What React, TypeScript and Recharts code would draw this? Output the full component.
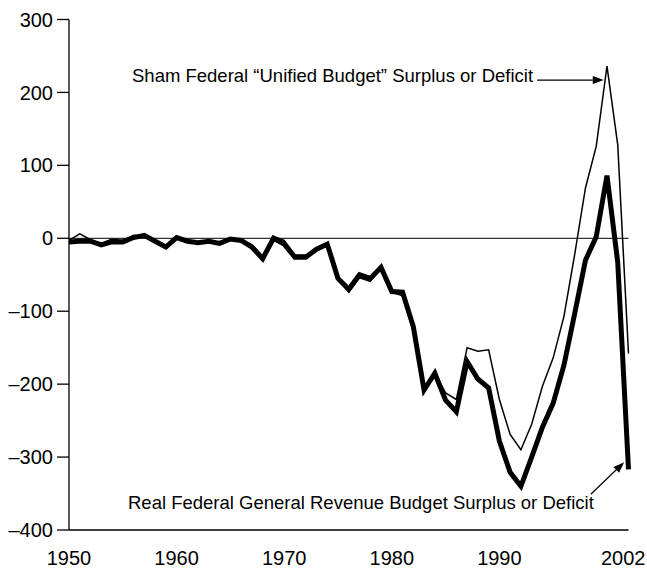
import React from 'react';
import { LineChart, Line, XAxis, YAxis, ReferenceLine } from 'recharts';

// fiscal years shown on the chart
const YEARS = [
  1950, 1951, 1952, 1953, 1954, 1955, 1956, 1957, 1958, 1959,
  1960, 1961, 1962, 1963, 1964, 1965, 1966, 1967, 1968, 1969,
  1970, 1971, 1972, 1973, 1974, 1975, 1976, 1977, 1978, 1979,
  1980, 1981, 1982, 1983, 1984, 1985, 1986, 1987, 1988, 1989,
  1990, 1991, 1992, 1993, 1994, 1995, 1996, 1997, 1998, 1999,
  2000, 2001, 2002,
];

// thin line: "unified budget" surplus / deficit
const UNIFIED = [
  -3, 6, -2, -7, -1, -3, 4, 3, -3, -13,
  0, -3, -7, -5, -6, -1, -4, -9, -25, 3,
  -3, -23, -23, -15, -6, -53, -74, -54, -59, -41,
  -74, -79, -128, -208, -185, -212, -221, -150, -155, -153,
  -221, -269, -290, -255, -203, -164, -107, -22, 69, 126,
  236, 128, -158,
];

// thick line: general revenue surplus / deficit
const GENERAL = [
  -5, -4, -4, -9, -5, -5, 1, 4, -4, -12,
  1, -4, -6, -4, -7, -1, -3, -12, -28, 0,
  -8, -26, -26, -15, -8, -55, -70, -50, -55, -40,
  -73, -74, -121, -208, -185, -222, -238, -169, -193, -205,
  -278, -321, -340, -300, -259, -226, -174, -103, -30, 2,
  86, -33, -317,
];

const X_TICKS = [1950, 1960, 1970, 1980, 1990, 2002];
const Y_TICKS = [-400, -300, -200, -100, 0, 100, 200, 300];

const data = YEARS.map((year, i) => ({
  year,
  unified: UNIFIED[i],
  general: GENERAL[i],
}));

const FONT = '"Liberation Sans", Arial, Helvetica, sans-serif';

// year labels; the last one is pulled in so it stays on the page
const YearTick = (props: any) => {
  const { x, y, payload } = props;
  const last = payload.value === X_TICKS[X_TICKS.length - 1];
  return (
    <text
      x={last ? x + 17 : x}
      y={y}
      dy="0.71em"
      textAnchor={last ? 'end' : 'middle'}
      fontFamily={FONT}
      fontSize={20}
      fill="#000"
    >
      {payload.value}
    </text>
  );
};

// builds a reference-line shape that draws an arrow plus its caption
const makeArrow = (caption: string, textDx: number, textDy: number) => (props: any) => {
  const { x1, y1, x2, y2 } = props;
  const ang = Math.atan2(y2 - y1, x2 - x1);
  const len = 11;
  const half = 4;
  const bx = x2 - len * Math.cos(ang);
  const by = y2 - len * Math.sin(ang);
  const px = -Math.sin(ang) * half;
  const py = Math.cos(ang) * half;
  return (
    <g>
      <line x1={x1} y1={y1} x2={bx} y2={by} stroke="#000" strokeWidth={1.2} />
      <polygon
        points={`${x2},${y2} ${bx + px},${by + py} ${bx - px},${by - py}`}
        fill="#000"
      />
      <text
        x={x1 + textDx}
        y={y1 + textDy}
        textAnchor="end"
        fontFamily={FONT}
        fontSize={18.5}
        fill="#000"
      >
        {caption}
      </text>
    </g>
  );
};

const ShamArrow = makeArrow('Sham Federal \u201cUnified Budget\u201d Surplus or Deficit', -4, 2);
const RealArrow = makeArrow('Real Federal General Revenue Budget Surplus or Deficit', 3, 15);

const App: React.FC = () => {
  return (
    <>
      <style>{'body{margin:0;overflow:hidden}'}</style>
      <LineChart
        width={647}
        height={570}
        data={data}
        margin={{ top: 19.5, right: 18.5, left: 0, bottom: 0 }}
      >
        <XAxis
          dataKey="year"
          type="number"
          domain={[1950, 2002]}
          ticks={X_TICKS}
          height={40}
          tickLine={false}
          tickSize={6}
          tickMargin={15}
          axisLine={{ stroke: '#000', strokeWidth: 1.3 }}
          tick={YearTick}
          interval={0}
        />
        <YAxis
          type="number"
          domain={[-400, 300]}
          ticks={Y_TICKS}
          width={69}
          tickSize={12}
          tickMargin={4}
          axisLine={{ stroke: '#000', strokeWidth: 1.3 }}
          tickLine={{ stroke: '#000', strokeWidth: 1.3 }}
          tick={{ fill: '#000', fontSize: 20, fontFamily: FONT }}
          tickFormatter={(v: number) => (v < 0 ? `\u2013${Math.abs(v)}` : `${v}`)}
          interval={0}
        />
        <ReferenceLine y={0} stroke="#333" strokeWidth={1.3} />
        <Line
          type="linear"
          dataKey="unified"
          stroke="#000"
          strokeWidth={1.5}
          dot={false}
          isAnimationActive={false}
        />
        <Line
          type="linear"
          dataKey="general"
          stroke="#000"
          strokeWidth={5}
          dot={false}
          isAnimationActive={false}
        />
        <ReferenceLine
          segment={[{ x: 1993.5, y: 217 }, { x: 1999.7, y: 217 }]}
          shape={ShamArrow}
        />
        <ReferenceLine
          segment={[{ x: 1998.5, y: -351 }, { x: 2001.6, y: -307 }]}
          shape={RealArrow}
        />
      </LineChart>
    </>
  );
};

export default App;
